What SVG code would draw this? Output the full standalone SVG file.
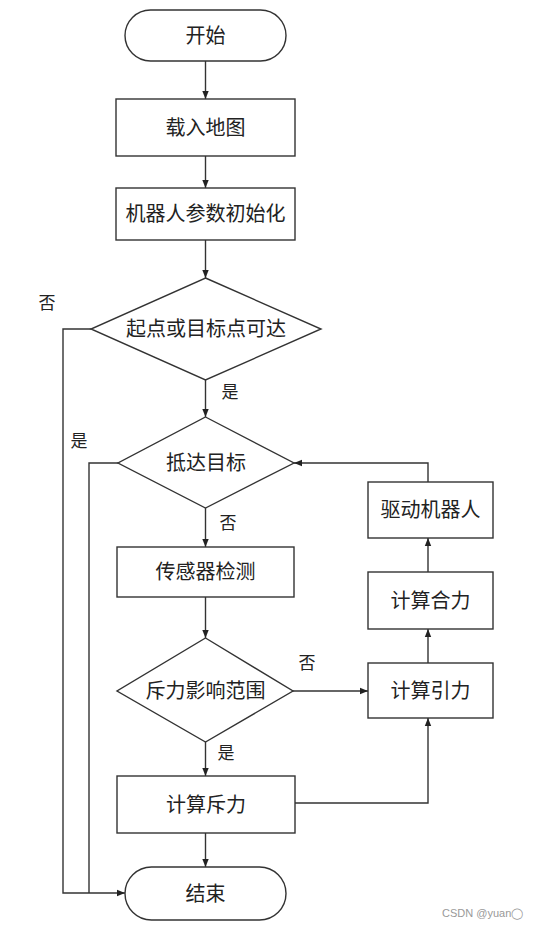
<svg xmlns="http://www.w3.org/2000/svg" width="544" height="930" viewBox="0 0 544 930">
<style>
.s{fill:#fff;stroke:#333;stroke-width:1.4}
.c{fill:none;stroke:#333;stroke-width:1.4}
.t{font-family:"Liberation Serif","Noto Sans CJK SC",serif;font-size:20px;fill:#222;text-anchor:middle;dominant-baseline:central}
.l{font-family:"Liberation Serif","Noto Sans CJK SC",serif;font-size:17px;fill:#222;text-anchor:middle;dominant-baseline:central}
.w{font-family:"Liberation Sans",Arial,sans-serif;font-size:11px;fill:#999}
</style>
<defs>
<marker id="a" viewBox="0 0 10 10" refX="10" refY="5" markerWidth="8" markerHeight="8" markerUnits="userSpaceOnUse" orient="auto">
<path d="M0,1 L10,5 L0,9 z" fill="#222"/>
</marker>
</defs>
<rect width="544" height="930" fill="#fff"/>
<g id="connectors">
<line class="c" x1="205.5" y1="61" x2="205.5" y2="99" marker-end="url(#a)"/>
<line class="c" x1="205.5" y1="156" x2="205.5" y2="188" marker-end="url(#a)"/>
<line class="c" x1="205.5" y1="240" x2="205.5" y2="278" marker-end="url(#a)"/>
<line class="c" x1="205.5" y1="380" x2="205.5" y2="417" marker-end="url(#a)"/>
<line class="c" x1="205.5" y1="508" x2="205.5" y2="547" marker-end="url(#a)"/>
<line class="c" x1="205.5" y1="597" x2="205.5" y2="638" marker-end="url(#a)"/>
<line class="c" x1="205.5" y1="742" x2="205.5" y2="776" marker-end="url(#a)"/>
<line class="c" x1="205.5" y1="833" x2="205.5" y2="867" marker-end="url(#a)"/>
<polyline class="c" points="91,329 63,329 63,893 125,893" marker-end="url(#a)"/>
<polyline class="c" points="118,463 89,463 89,893"/>
<polyline class="c" points="428,482 428,463 294,463" marker-end="url(#a)"/>
<line class="c" x1="428" y1="572" x2="428" y2="538" marker-end="url(#a)"/>
<line class="c" x1="428" y1="663" x2="428" y2="629" marker-end="url(#a)"/>
<line class="c" x1="293" y1="691" x2="368" y2="691" marker-end="url(#a)"/>
<polyline class="c" points="295,803 428,803 428,718" marker-end="url(#a)"/>
<text class="l" x="47" y="303">否</text>
<text class="l" x="230" y="392">是</text>
<text class="l" x="79" y="441">是</text>
<text class="l" x="228" y="523">否</text>
<text class="l" x="307" y="663">否</text>
<text class="l" x="226" y="753">是</text>
</g>
<g id="start"><rect class="s" x="125" y="10" width="161" height="51" rx="25.5"/><text class="t" x="205.5" y="35.5">开始</text></g>
<g id="load"><rect class="s" x="116" y="99" width="179" height="57"/><text class="t" x="205.5" y="127.5">载入地图</text></g>
<g id="init"><rect class="s" x="116" y="188" width="179" height="52"/><text class="t" x="205.5" y="214">机器人参数初始化</text></g>
<g id="reachable"><polygon class="s" points="205.5,278 321,329 205.5,380 91,329"/><text class="t" x="206" y="329">起点或目标点可达</text></g>
<g id="arrive"><polygon class="s" points="205.5,417 294,463 205.5,508 118,463"/><text class="t" x="206" y="463">抵达目标</text></g>
<g id="sense"><rect class="s" x="117" y="547" width="177" height="50"/><text class="t" x="205.5" y="572">传感器检测</text></g>
<g id="range"><polygon class="s" points="205.5,638 293,691 205.5,742 117,691"/><text class="t" x="205.5" y="691">斥力影响范围</text></g>
<g id="repulse"><rect class="s" x="117" y="776" width="178" height="57"/><text class="t" x="206" y="804.5">计算斥力</text></g>
<g id="end"><rect class="s" x="125" y="867" width="161" height="53" rx="26.5"/><text class="t" x="205.5" y="893.5">结束</text></g>
<g id="drive"><rect class="s" x="368" y="482" width="125" height="56"/><text class="t" x="430.5" y="510">驱动机器人</text></g>
<g id="resultant"><rect class="s" x="368" y="572" width="125" height="57"/><text class="t" x="430.5" y="600.5">计算合力</text></g>
<g id="attract"><rect class="s" x="368" y="663" width="125" height="55"/><text class="t" x="430.5" y="690.5">计算引力</text></g>
<text class="w" x="442" y="917">CSDN @yuan◯</text>
</svg>
